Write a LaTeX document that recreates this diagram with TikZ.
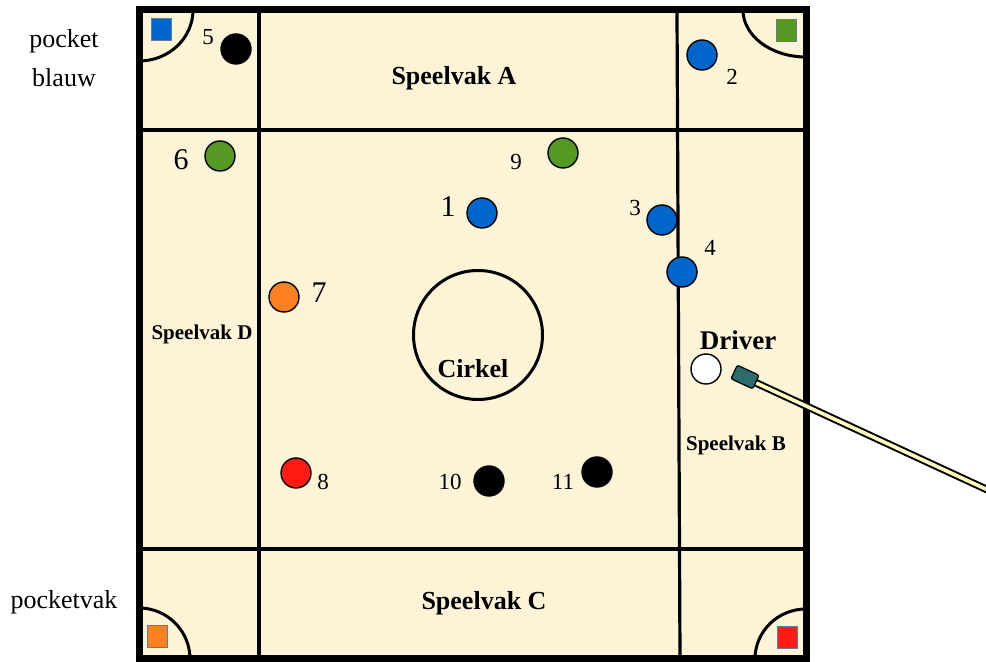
\documentclass[tikz,border=0pt]{standalone}
\usepackage{fontspec}
\setmainfont{Liberation Serif}
\definecolor{BoardCream}{RGB}{253,243,215}
\definecolor{BallBlue}{RGB}{0,102,204}
\definecolor{BallGreen}{RGB}{85,153,34}
\definecolor{BallOrange}{RGB}{255,128,34}
\definecolor{BallRed}{RGB}{255,26,20}
\definecolor{TipTeal}{RGB}{46,107,107}
\definecolor{CueWood}{RGB}{255,250,190}
\definecolor{PocketEdge}{RGB}{100,120,160}
\usetikzlibrary{calc}

\begin{document}
\begin{tikzpicture}[x=0.5pt,y=-0.5pt,
	ball/.style={circle,draw=black,line width=0.7pt,minimum size=15pt,inner sep=0pt},
	pocket/.style={rectangle,draw=PocketEdge,line width=0.5pt,minimum width=10pt,minimum height=11pt,inner sep=0pt},
	num/.style={font=\fontsize{11.5}{13}\selectfont,inner sep=0pt},
	bignum/.style={font=\fontsize{15}{17}\selectfont,inner sep=0pt},
	vak/.style={font=\bfseries\fontsize{13}{15}\selectfont,inner sep=0pt},
	smallvak/.style={font=\bfseries\fontsize{10.5}{12}\selectfont,inner sep=0pt}]
\useasboundingbox (0,0) rectangle (986,662);
% board and zones
\draw[line width=3.5pt,fill=BoardCream] (139,10) rectangle (806,659);
\draw[line width=1.6pt] (143,130) -- (803,130);
\draw[line width=1.6pt] (143,549) -- (803,549);
\draw[line width=1.6pt] (259,13) -- (259,656);
\draw[line width=1.6pt] (677,13) -- (680,656);
\node[vak] (SA) at (454,78) {Speelvak A};
\node[smallvak] (SB) at (736,445) {Speelvak B};
\node[vak] (SC) at (484,603) {Speelvak C};
\node[smallvak] (SD) at (202,334) {Speelvak D};
% pockets
\draw[line width=1.5pt] (193,10) arc[start angle=0,end angle=90,x radius=54,y radius=51];
\draw[line width=1.5pt] (743,10) arc[start angle=180,end angle=90,x radius=63,y radius=47];
\draw[line width=1.5pt] (139,608) arc[start angle=-90,end angle=0,x radius=51,y radius=51];
\draw[line width=1.5pt] (755,659) arc[start angle=180,end angle=270,x radius=51,y radius=50];
\node[pocket,fill=BallBlue]   (PB) at (161,30) {};
\node[pocket,fill=BallGreen]  (PG) at (786,31) {};
\node[pocket,fill=BallOrange] (PO) at (157,637) {};
\node[pocket,fill=BallRed]    (PR) at (787,638) {};
\node[font=\fontsize{13}{19.5}\selectfont,align=center,inner sep=0pt] (pblauw) at (64,58) {pocket\\blauw};
\node[font=\fontsize{13}{15}\selectfont,inner sep=0pt] (pvak) at (64,602) {pocketvak};
% cirkel
\node[circle,draw=black,line width=1.5pt,minimum size=64.5pt,inner sep=0pt] (cirkel) at (478,335) {};
\node[vak] (cirkeltxt) at (473,369) {Cirkel};
% balls
\foreach \i/\x/\y/\c in {1/482/213/BallBlue,2/702/55/BallBlue,3/662/220/BallBlue,4/682/272/BallBlue,
	5/236/49/black,6/220/156/BallGreen,7/284/297/BallOrange,8/296/473/BallRed,
	9/563/153/BallGreen,10/489/481/black,11/597/472/black}
	\node[ball,fill=\c] (B\i) at (\x,\y){};
\foreach \i/\x/\y in {2/732/77,3/635/208,4/710/248,5/208/37,8/323/482,9/516/162,10/450/482,11/563/482}
	\node[num] (L\i) at (\x,\y) {\i};
\foreach \i/\x/\y in {1/448/207,6/181/160,7/319/293}
	\node[bignum] (L\i) at (\x,\y) {\i};
% driver and cue
\node[ball,fill=white] (driver) at (706,369){};
\node[font=\bfseries\fontsize{13.5}{15}\selectfont,inner sep=0pt] (drivertxt) at (738,340) {Driver};
\coordinate (cuestart) at (752,381);
\coordinate (cueend) at (990,491);
\draw[line width=3.8pt] (cuestart) -- (cueend);
\draw[line width=1.8pt,CueWood] (cuestart) -- (cueend);
\node[rectangle,draw=black,line width=0.6pt,fill=TipTeal,rounded corners=1pt,rotate=-24.8,
	minimum width=12pt,minimum height=7.5pt,inner sep=0pt] (tip) at (745,377) {};
\end{tikzpicture}
\end{document}
